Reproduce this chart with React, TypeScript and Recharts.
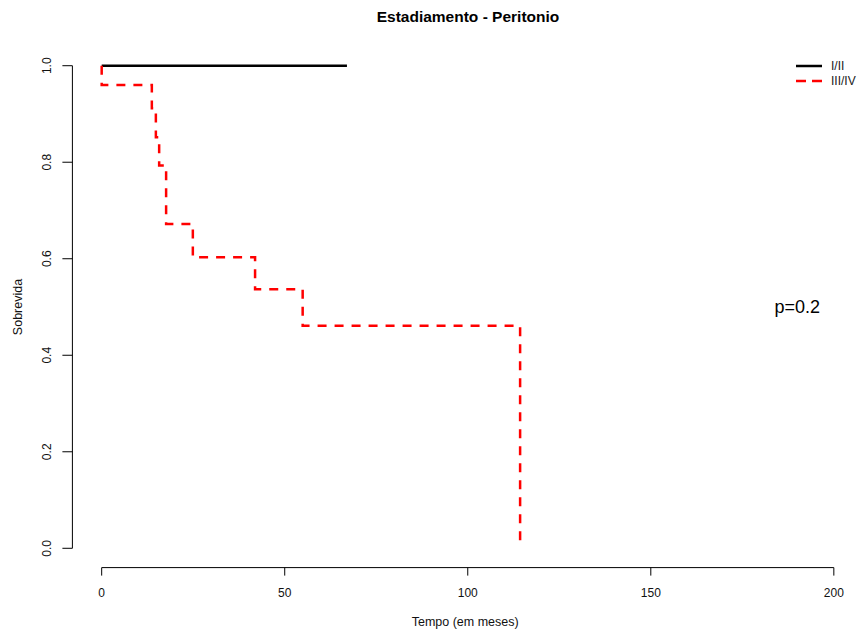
import {
  LineChart,
  Line,
  XAxis,
  YAxis,
  ReferenceLine,
  ReferenceDot,
} from "recharts";

// Kaplan-Meier estimates: time in months, survival proportion
const stageIIITime = [0, 0, 13.7, 14.8, 15.7, 17.6, 24.9, 41.9, 54.9, 114.3];
const stageIIISurv = [1, 0.96, 0.912, 0.852, 0.793, 0.672, 0.603, 0.537, 0.461, 0];
const stageITime = [0, 67.0];
const stageISurv = [1, 1];

const xTicks = [0, 50, 100, 150, 200];
const yTicks = [0, 0.2, 0.4, 0.6, 0.8, 1.0];
const pValue = { t: 190, s: 0.5, text: "p=0.2" };

const toPoints = (t: number[], s: number[]) => t.map((v, i) => ({ t: v, s: s[i] }));

const series = [
  { name: "I/II", data: toPoints(stageITime, stageISurv), color: "#000000", dash: undefined },
  { name: "III/IV", data: toPoints(stageIIITime, stageIIISurv), color: "#ff0000", dash: "9 8" },
];

const FONT = "'Liberation Sans', Arial, sans-serif";

const XTick = (props: any) => {
  const { x, y, payload } = props;
  return (
    <text x={x} y={y + 19} textAnchor="middle" fontSize={12} fontFamily={FONT} fill="#111">
      {payload.value}
    </text>
  );
};

const YTick = (props: any) => {
  const { x, y, payload } = props;
  const tx = x - 9.5;
  return (
    <text
      x={tx}
      y={y}
      transform={`rotate(-90, ${tx}, ${y})`}
      textAnchor="middle"
      fontSize={12}
      fontFamily={FONT}
      fill="#111"
    >
      {Number(payload.value).toFixed(1)}
    </text>
  );
};

const App = () => {
  return (
    <div style={{ position: "absolute", left: 0, top: 0, width: 858, height: 637, background: "#fff" }}>
      <div
        style={{
          position: "absolute",
          left: 0,
          width: 936,
          top: 8,
          textAlign: "center",
          fontFamily: FONT,
          fontWeight: "bold",
          fontSize: 15.5,
          color: "#000",
        }}
      >
        Estadiamento - Peritonio
      </div>
      <LineChart
        width={858}
        height={637}
        margin={{ top: 46.4, right: 0, bottom: 0, left: 0 }}
      >
        <XAxis
          type="number"
          dataKey="t"
          domain={[-8, 206.6]}
          ticks={xTicks}
          axisLine={false}
          tickLine={{ stroke: "#000" }}
          tickSize={8}
          tick={<XTick />}
          height={69.4}
          allowDataOverflow
          label={{
            value: "Tempo (em meses)",
            position: "insideBottom",
            offset: 11,
            fontSize: 12.5,
            fontFamily: FONT,
            fill: "#111",
          }}
        />
        <YAxis
          type="number"
          dataKey="s"
          domain={[-0.04, 1.04]}
          ticks={yTicks}
          axisLine={false}
          tickLine={{ stroke: "#000" }}
          tickSize={10}
          tick={<YTick />}
          width={72.4}
          allowDataOverflow
          label={{
            value: "Sobrevida",
            angle: -90,
            position: "insideLeft",
            offset: 18,
            fontSize: 12.5,
            fontFamily: FONT,
            fill: "#111",
            style: { textAnchor: "middle" },
          }}
        />
        <ReferenceLine
          segment={[{ x: 0, y: -0.04 }, { x: 200, y: -0.04 }]}
          stroke="#000"
          ifOverflow="visible"
        />
        <ReferenceLine
          segment={[{ x: -8, y: 0 }, { x: -8, y: 1 }]}
          stroke="#000"
          ifOverflow="visible"
        />
        {series.map((s) => (
          <Line
            key={s.name}
            data={s.data}
            dataKey="s"
            type="stepAfter"
            stroke={s.color}
            strokeWidth={2.5}
            strokeDasharray={s.dash}
            dot={false}
            isAnimationActive={false}
          />
        ))}
        <ReferenceDot
          x={pValue.t}
          y={pValue.s}
          r={0}
          stroke="none"
          fill="none"
          label={{ value: pValue.text, position: "center", fontSize: 18, fontFamily: FONT, fill: "#000" }}
        />
      </LineChart>
      <div style={{ position: "absolute", left: 796, top: 58, fontFamily: FONT, fontSize: 12, color: "#222" }}>
        {series.map((s) => (
          <div key={s.name} style={{ display: "flex", alignItems: "center", height: 15.5 }}>
            <svg width={26} height={6} style={{ marginRight: 9 }}>
              <line x1={0} y1={3} x2={26} y2={3} stroke={s.color} strokeWidth={2.5} strokeDasharray={s.dash ? "10 6" : undefined} />
            </svg>
            <span>{s.name}</span>
          </div>
        ))}
      </div>
    </div>
  );
};

export default App;
